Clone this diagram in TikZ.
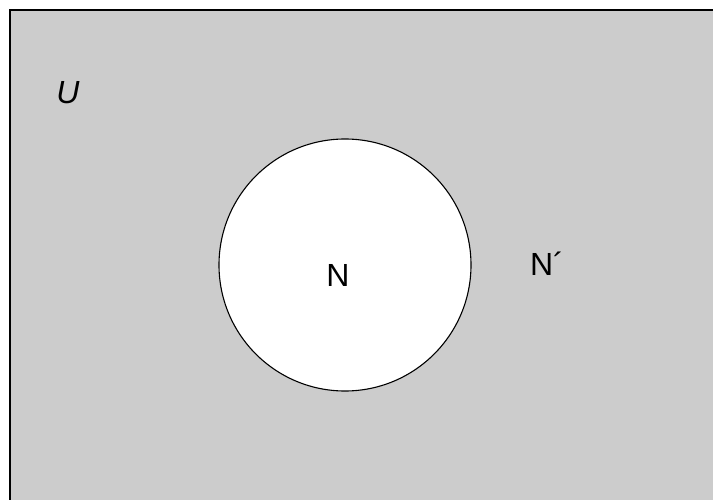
\documentclass[tikz,border=0pt]{standalone}
\usepackage{fontspec}
\setmainfont{Liberation Sans}
\usetikzlibrary{positioning}
\tikzset{
  universe/.style={draw=black, line width=2.8pt, fill=black!20},
  setcircle/.style={circle, draw=black, line width=1.1pt, fill=white, minimum size=252pt, inner sep=0pt},
  setlabel/.style={font=\fontsize{32}{36}\selectfont, inner sep=0pt}
}
\begin{document}
\begin{tikzpicture}[x=1pt, y=-1pt]
  \useasboundingbox (0,0) rectangle (713,500);
  \clip (0,0) rectangle (713,500);
  \draw[universe] (10,10) rectangle (730,520);
  \node[setcircle] (nset) at (345,265) {};
  \node[setlabel] (ulabel) at (68,93) {\itshape U};
  \node[setlabel] (nlabel) at (338,275) {N};
  \node[setlabel] (ncomp) at (547,264) {N´};
\end{tikzpicture}
\end{document}
